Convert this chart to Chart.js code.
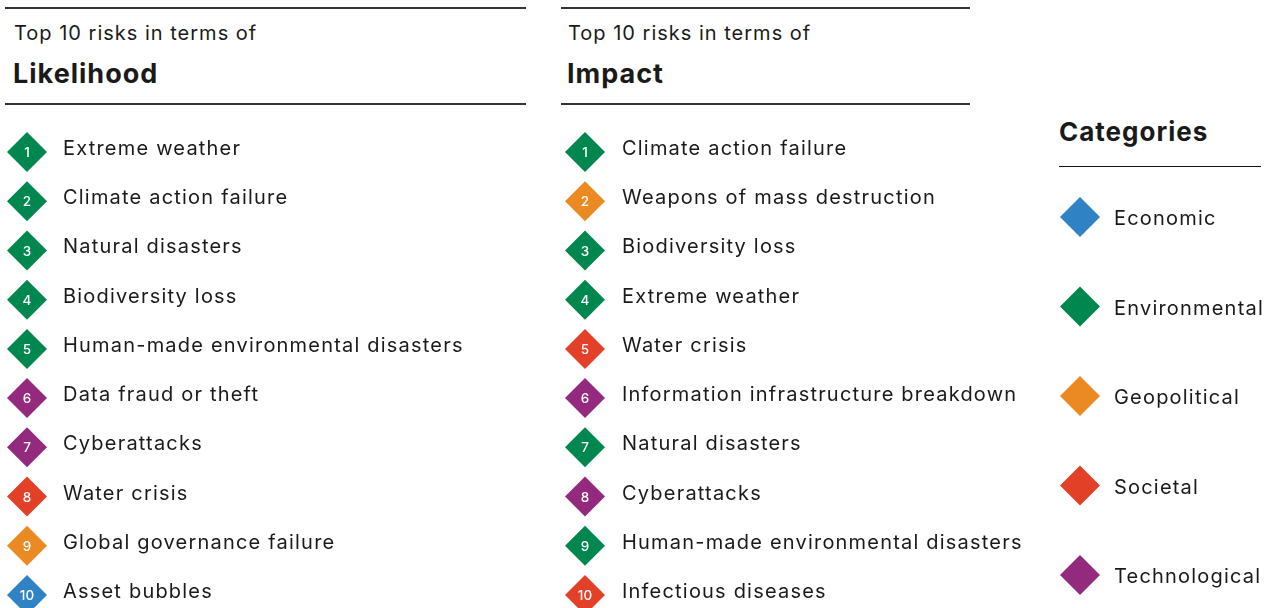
<!DOCTYPE html>
<html>
<head>
<meta charset="utf-8">
<script src="https://cdn.jsdelivr.net/npm/chart.js@4/dist/chart.umd.min.js"></script>
<style>
  html, body { margin: 0; padding: 0; background: #fff; overflow: hidden; }
  body { width: 1276px; height: 608px; position: relative; font-family: Inter, Lato, sans-serif; color: #1a1a1a; }
  .rule { position: absolute; height: 0; border-top: 2px solid #333; }
  .sub { position: absolute; font-size: 20px; line-height: 20px; letter-spacing: 1px; white-space: nowrap; }
  .head { position: absolute; font-size: 27px; line-height: 27px; font-weight: bold; letter-spacing: 1px; white-space: nowrap; }
  canvas { position: absolute; }
</style>
</head>
<body>
<div class="rule" style="left:5px;top:7px;width:521px"></div>
<div class="sub" style="left:14px;top:23px">Top 10 risks in terms of</div>
<div class="head" style="left:13px;top:60px">Likelihood</div>
<div class="rule" style="left:5px;top:103px;width:521px"></div>

<div class="rule" style="left:561px;top:7px;width:409px"></div>
<div class="sub" style="left:568px;top:23px">Top 10 risks in terms of</div>
<div class="head" style="left:567px;top:60px">Impact</div>
<div class="rule" style="left:561px;top:103px;width:409px"></div>

<div class="head" style="left:1059px;top:119px;font-size:26px;line-height:26px">Categories</div>
<div class="rule" style="left:1059px;top:166px;width:202px;border-top-width:1.5px;border-color:#111"></div>

<canvas id="likelihood" width="540" height="481" style="left:0;top:127px"></canvas>
<canvas id="impact" width="470" height="481" style="left:558px;top:127px"></canvas>
<canvas id="legend" width="236" height="418" style="left:1040px;top:190px"></canvas>

<script>
const categories = ["Economic", "Environmental", "Geopolitical", "Societal", "Technological"];
const categoryColors = ["#2f82c4", "#00874f", "#eb8a23", "#e34127", "#942a7e"];

const likelihoodRisks = [
  "Extreme weather", "Climate action failure", "Natural disasters", "Biodiversity loss",
  "Human-made environmental disasters", "Data fraud or theft", "Cyberattacks",
  "Water crisis", "Global governance failure", "Asset bubbles"
];
const likelihoodCats = [
  "Environmental", "Environmental", "Environmental", "Environmental", "Environmental",
  "Technological", "Technological", "Societal", "Geopolitical", "Economic"
];

const impactRisks = [
  "Climate action failure", "Weapons of mass destruction", "Biodiversity loss",
  "Extreme weather", "Water crisis", "Information infrastructure breakdown",
  "Natural disasters", "Cyberattacks", "Human-made environmental disasters",
  "Infectious diseases"
];
const impactCats = [
  "Environmental", "Geopolitical", "Environmental", "Environmental", "Societal",
  "Technological", "Environmental", "Technological", "Environmental", "Societal"
];

const colorOf = c => categoryColors[categories.indexOf(c)];
const FONT = "Inter, Lato, sans-serif";

// writes the rank inside each diamond and the label to its right
const labelPlugin = {
  id: "rowLabels",
  afterDatasetsDraw(chart, args, opts) {
    const ctx = chart.ctx;
    const meta = chart.getDatasetMeta(0);
    ctx.save();
    meta.data.forEach((pt, i) => {
      if (opts.numbers) {
        ctx.letterSpacing = "0px";
        ctx.fillStyle = "#fff";
        ctx.font = "500 13.5px " + FONT;
        ctx.textAlign = "center";
        ctx.textBaseline = "middle";
        ctx.fillText(String(i + 1), pt.x, pt.y + 1);
      }
      ctx.letterSpacing = "1.2px";
      ctx.fillStyle = "#1a1a1a";
      ctx.font = "20px " + FONT;
      ctx.textAlign = "left";
      ctx.textBaseline = "alphabetic";
      ctx.fillText(opts.labels[i], pt.x + opts.offset, pt.y + opts.lift);
    });
    ctx.restore();
  }
};

function rowChart(id, labels, colors, pad, numbers, offset, lift) {
  return new Chart(document.getElementById(id), {
    type: "scatter",
    data: {
      datasets: [{
        data: labels.map((_, i) => ({ x: 0, y: i + 1 })),
        pointStyle: "rectRot",
        pointRadius: 20,
        pointHoverRadius: 20,
        backgroundColor: colors,
        borderWidth: 0,
        clip: false
      }]
    },
    options: {
      responsive: false,
      animation: false,
      events: [],
      layout: { autoPadding: false, padding: pad },
      scales: {
        x: { display: false, min: 0, max: 1 },
        y: { display: false, min: 1, max: labels.length, reverse: true }
      },
      plugins: {
        legend: { display: false },
        tooltip: { enabled: false },
        rowLabels: { labels: labels, numbers: numbers, offset: offset, lift: lift }
      }
    },
    plugins: [labelPlugin]
  });
}

rowChart("likelihood", likelihoodRisks, likelihoodCats.map(colorOf),
  { left: 27, right: 10, top: 25, bottom: 13 }, true, 36, 3);
rowChart("impact", impactRisks, impactCats.map(colorOf),
  { left: 27, right: 10, top: 25, bottom: 13 }, true, 37, 3);
rowChart("legend", categories, categoryColors,
  { left: 40, right: 10, top: 27, bottom: 33 }, false, 34, 8);
</script>
</body>
</html>
